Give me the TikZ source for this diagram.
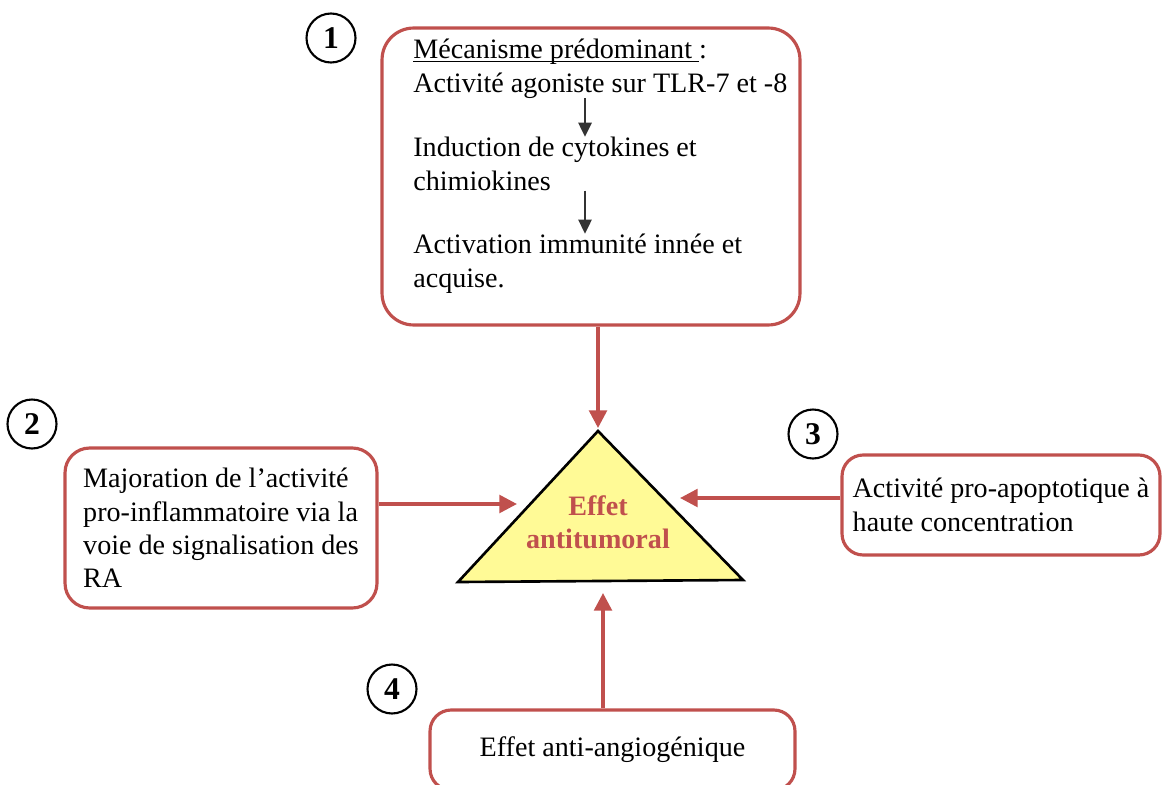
\documentclass[tikz,border=0pt]{standalone}
\usepackage{fontspec}
\setmainfont{Liberation Serif}
\newcommand\ulmeca[1]{\setbox0\hbox{#1}\rlap{\rule[-1.8pt]{\wd0}{0.6pt}}\box0}
\usetikzlibrary{positioning,arrows.meta,calc}
\definecolor{boxred}{RGB}{192,80,77}
\definecolor{triyellow}{RGB}{255,250,150}
\tikzset{
  effbox/.style={draw=boxred, line width=1.8pt, rounded corners=#1, align=left, inner sep=0pt},
  txt/.style={align=left, inner sep=0pt},
  num/.style={circle, draw=black, line width=1.2pt, minimum size=0.98cm, inner sep=0pt,
    font=\bfseries\fontsize{18}{18}\selectfont},
  tri/.style={draw=black, line width=1.5pt, fill=triyellow, line join=miter},
  efftxt/.style={align=center, inner sep=0pt, text=boxred, font=\bfseries\fontsize{16}{19}\selectfont},
  redarrow/.style={draw=boxred, line width=2pt, -{Triangle[length=10pt,width=10pt]}},
  smallarrow/.style={draw=black!80, line width=1.2pt, -{Triangle[length=8pt,width=7.5pt]}}
}
\begin{document}
\begin{tikzpicture}[x=0.02cm, y=-0.02cm, font=\fontsize{16}{19}\selectfont]
    \useasboundingbox (0,0) rectangle (1165,784);

    % numbered circles
    \node[num] (n1) at (331,38)  {1};
    \node[num] (n2) at (32,424)  {2};
    \node[num] (n3) at (813,434) {3};
    \node[num] (n4) at (392,689) {4};

    % box 1 : main mechanism
    \node[effbox=18pt, minimum width=8.36cm, minimum height=5.94cm] (mech) at (591,176.5) {};
    \node[txt, anchor=base west] (agon) at (413,92) {\ulmeca{Mécanisme prédominant\ }:\\Activité agoniste sur TLR-7 et -8};
    \node[txt, anchor=base west] (cyto) at (413,190) {Induction de cytokines et\\chimiokines};
    \node[txt, anchor=base west] (immu) at (413,287) {Activation immunité innée et\\acquise.};
    \coordinate (ax) at (585,0);
    \draw[smallarrow] (agon.south -| ax) -- (cyto.north -| ax);
    \draw[smallarrow] (cyto.south -| ax) -- (immu.north -| ax);

    % the other boxes
    \node[effbox=14pt, minimum width=6.24cm, minimum height=3.2cm] (proinfl) at (221,528)
      {Majoration de l'activité\\pro-inflammatoire via la\\voie de signalisation des\\RA};
    \node[effbox=12pt, minimum width=6.36cm, minimum height=2.0cm] (apopt) at (1001,505)
      {Activité pro-apoptotique à\\haute concentration};
    \node[effbox=12pt, minimum width=7.3cm, minimum height=1.6cm] (angio) at (612.5,750)
      {Effet anti-angiogénique};

    % triangle
    \coordinate (apex) at (598,431);
    \coordinate (bl) at (458,582);
    \coordinate (br) at (743,580);
    \draw[tri] (apex) -- (bl) -- (br) -- cycle;
    \node[efftxt] (effet) at (598,522) {Effet\\antitumoral};

    % arrows to the triangle
    \coordinate (tipT) at (598,428);
    \coordinate (tipL) at (517,504);
    \coordinate (tipR) at (680,498);
    \coordinate (tipB) at (603,593);
    \draw[redarrow] (mech.south -| tipT) -- (tipT);
    \draw[redarrow] (proinfl.east |- tipL) -- (tipL);
    \draw[redarrow] (apopt.west |- tipR) -- (tipR);
    \draw[redarrow] (angio.north -| tipB) -- (tipB);
\end{tikzpicture}
\end{document}
